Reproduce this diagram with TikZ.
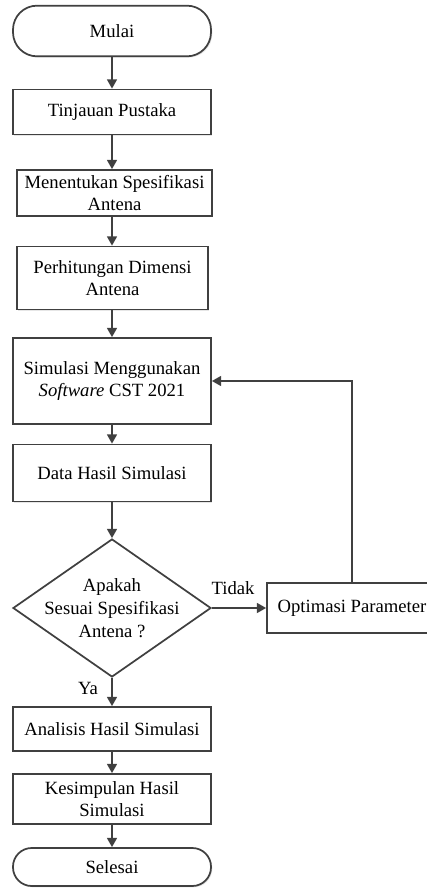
\documentclass[tikz,border=0pt]{standalone}
\usepackage{fontspec}
\setmainfont{Liberation Serif}
\usetikzlibrary{arrows.meta,shapes.geometric,shadows}
\definecolor{linegray}{HTML}{404040}

\begin{document}
\begin{tikzpicture}[x=0.75pt,y=-0.75pt,
    font=\fontsize{14}{17}\selectfont,
    box/.style={draw=linegray,line width=1.3pt,fill=white,inner sep=0pt,align=center,
      drop shadow={shadow xshift=1pt,shadow yshift=-1pt,opacity=0.2}},
    terminal/.style={box,rounded corners=18pt},
    decide/.style={draw=linegray,line width=1.3pt,diamond,inner sep=0pt,
      minimum width=148.5pt,minimum height=103.5pt},
    flow/.style={draw=linegray,line width=1.3pt,-{Triangle[width=7.5pt,length=7pt]}}]
      \useasboundingbox (0,0) rectangle (427,888);
      \node[terminal,minimum width=148.5pt,minimum height=38pt] (start) at (112,31) {Mulai};
      \node[box,minimum width=148.5pt,minimum height=33.75pt] (lit) at (112,112) {Tinjauan Pustaka};
      \node[box,minimum width=146.25pt,minimum height=34.5pt] (spec) at (114.5,193) {Menentukan Spesifikasi\\Antena};
      \node[box,minimum width=143.25pt,minimum height=47.25pt] (dim) at (112.5,278) {Perhitungan Dimensi\\Antena};
      \node[box,minimum width=148.5pt,minimum height=64.5pt] (sim) at (112,381) {Simulasi Menggunakan\\\textit{Software} CST 2021};
      \node[box,minimum width=148.5pt,minimum height=42.75pt] (data) at (112,473) {Data Hasil Simulasi};
      \node[decide] (dec) at (112,608) {};
      \node[align=center,inner sep=0pt] (dectext) at (dec) {Apakah\\Sesuai Spesifikasi\\Antena ?};
      \node[box,minimum width=127.5pt,minimum height=37.5pt] (opt) at (352,608) {Optimasi Parameter};
      \node[box,minimum width=148.5pt,minimum height=33pt] (ana) at (112,729) {Analisis Hasil Simulasi};
      \node[box,minimum width=148.5pt,minimum height=37.5pt] (con) at (112,799) {Kesimpulan Hasil\\Simulasi};
      \node[terminal,minimum width=148.5pt,minimum height=28.5pt,rounded corners=14pt] (end) at (112,867) {Selesai};
      \node (tidak) at (233,588) {Tidak};
      \node (ya) at (88,688) {Ya};
      \begin{scope}[flow]
        \draw (start) -- (lit);
        \draw (lit.south) -- (lit.south |- spec.north);
        \draw (lit.south |- spec.south) -- (lit.south |- dim.north);
        \draw (lit.south |- dim.south) -- (sim.north);
        \draw (sim) -- (data);
        \draw (data) -- (dec);
        \draw (dec) -- (ana);
        \draw (ana) -- (con);
        \draw (con) -- (end);
        \draw (dec.east) -- (opt.west);
        \draw (opt.north) |- (sim.east);
      \end{scope}
    \end{tikzpicture}
\end{document}
